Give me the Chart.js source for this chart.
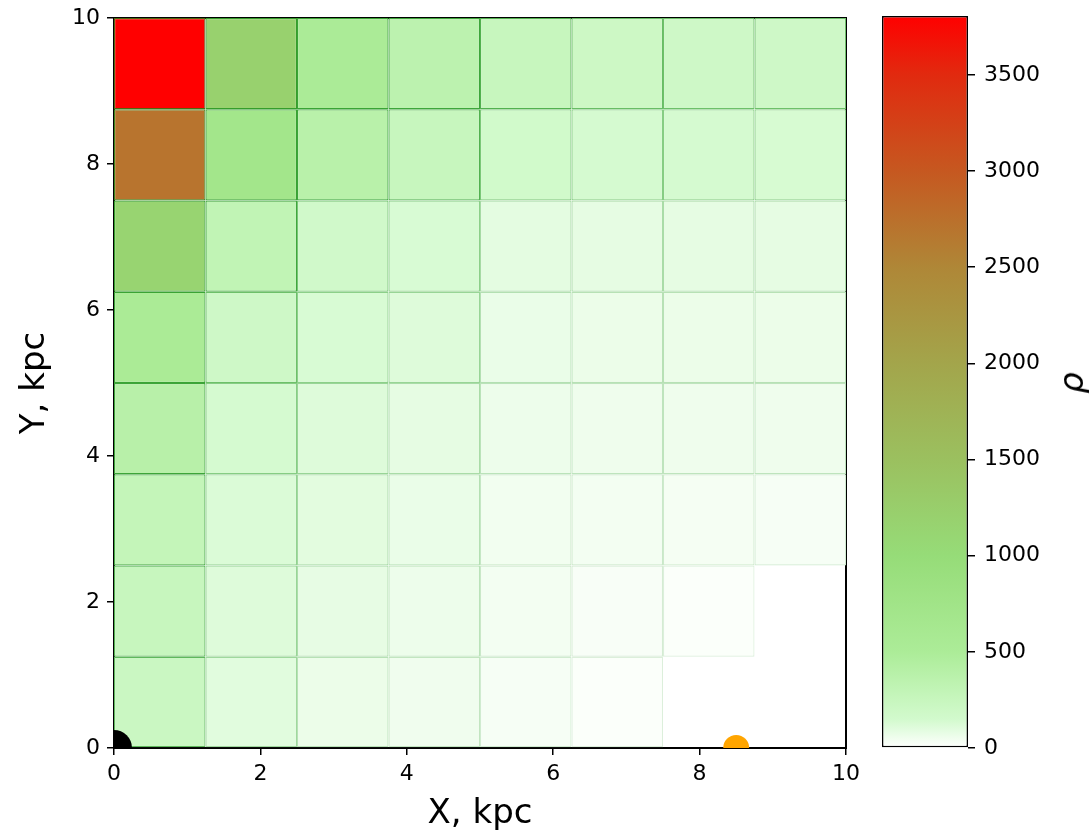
<!DOCTYPE html>
<html><head><meta charset="utf-8">
<script src="https://cdn.jsdelivr.net/npm/chart.js@4.4.1/dist/chart.umd.min.js"></script>
<style>
html,body{margin:0;padding:0;background:#fff;}
#wrap{position:relative;width:1089px;height:839px;overflow:hidden;}
#main{position:absolute;left:0;top:0;}
#cbar{position:absolute;left:860px;top:0;}
#rho{position:absolute;left:1071px;top:383px;transform:translate(-50%,-50%) rotate(-90deg);font:italic 34px "DejaVu Sans";color:#000;line-height:1;}
</style></head>
<body><div id="wrap"><canvas id="main" width="1089" height="839"></canvas><canvas id="cbar" width="229" height="839"></canvas><div id="rho">ρ</div></div>
<script>
// ---- data ----
const xEdges = [0, 1.25, 2.5, 3.75, 5, 6.25, 7.5, 8.75, 10];
const yEdges = [0, 1.25, 2.5, 3.75, 5, 6.25, 7.5, 8.75, 10];
// density per cell, one array per row (bottom row first), columns left to right
const rhoRow0 = [220, 100, 65, 50, 30, 15, 0, 0];
const rhoRow1 = [250, 110, 80, 60, 40, 25, 15, 0];
const rhoRow2 = [280, 120, 95, 70, 45, 40, 35, 30];
const rhoRow3 = [390, 140, 110, 85, 60, 55, 55, 55];
const rhoRow4 = [530, 190, 130, 110, 70, 65, 65, 65];
const rhoRow5 = [1150, 310, 170, 130, 90, 85, 85, 85];
const rhoRow6 = [2700, 700, 380, 250, 160, 140, 140, 135];
const rhoRow7 = [3806, 1200, 520, 350, 250, 200, 190, 190];
const rhoRows = [rhoRow0, rhoRow1, rhoRow2, rhoRow3, rhoRow4, rhoRow5, rhoRow6, rhoRow7];
const centerPoint = [{x: 0, y: 0}];
const sunPoint = [{x: 8.5, y: 0}];
const axisTicks = [0, 2, 4, 6, 8, 10];
const cbarTicks = [0, 500, 1000, 1500, 2000, 2500, 3000, 3500];
const rhoMax = 3806;

// ---- colormap ----
const cmapStops = [
  [0, [255,255,255]], [150, [210,250,205]], [500, [172,236,152]], [1000, [150,220,120]],
  [1500, [155,192,95]], [2000, [163,165,75]], [2500, [175,135,55]], [3000, [198,88,32]],
  [3500, [225,42,15]], [3806, [255,0,0]]
];
function cmapRGB(v) {
  if (v <= cmapStops[0][0]) return cmapStops[0][1].slice();
  for (let i = 1; i < cmapStops.length; i++) {
    const [v1, c1] = cmapStops[i], [v0, c0] = cmapStops[i-1];
    if (v <= v1) {
      const t = (v - v0) / (v1 - v0);
      return c0.map((a, k) => a + (c1[k] - a) * t);
    }
  }
  return cmapStops[cmapStops.length-1][1].slice();
}
const rgbStr = c => 'rgb(' + c.map(Math.round).join(',') + ')';
function edgeColor(v) {
  if (v <= 0) return 'rgba(0,0,0,0)';
  const a = Math.min(0.75, 0.1 + v / 450);
  const base = cmapRGB(v), g = [20, 140, 20];
  return rgbStr(base.map((b, k) => b + (g[k] - b) * a));
}

const FONT = '"DejaVu Sans", sans-serif';
Chart.defaults.font.family = FONT;
Chart.defaults.color = '#000';

const cellDatasets = rhoRows.map((row, r) => ({
  type: 'bar',
  order: 1,
  data: row.map((v, c) => ({x: (xEdges[c] + xEdges[c+1]) / 2, y: [yEdges[r], yEdges[r+1]]})),
  backgroundColor: row.map(v => v > 0 ? rgbStr(cmapRGB(v)) : 'rgba(0,0,0,0)'),
  borderColor: row.map(edgeColor),
  borderWidth: 1.2,
  borderSkipped: false,
  grouped: false,
  barPercentage: 1,
  categoryPercentage: 1,
  inflateAmount: 0
}));

const spine = {display: true, color: '#000', width: 2};
const tickGrid = {display: true, offset: false, drawOnChartArea: false, drawTicks: true, tickLength: 7, color: '#000', lineWidth: 1.5};
const noPad = s => { s.paddingTop = 0; s.paddingBottom = 0; s.paddingLeft = 0; s.paddingRight = 0; };

new Chart(document.getElementById('main'), {
  type: 'bar',
  data: {
    datasets: [
      {type: 'scatter', order: 0, data: centerPoint, pointRadius: 18, pointBorderWidth: 0, backgroundColor: '#000', borderColor: '#000', clip: 0},
      {type: 'scatter', order: 0, data: sunPoint, pointRadius: 13, pointBorderWidth: 0, backgroundColor: '#FFA500', borderColor: '#FFA500', clip: 0},
      ...cellDatasets
    ]
  },
  options: {
    responsive: false,
    devicePixelRatio: 1,
    animation: false,
    events: [],
    layout: {padding: {left: 0, top: 0, right: 213, bottom: 0}},
    plugins: {legend: {display: false}, tooltip: {enabled: false}},
    scales: {
      x: {
        type: 'linear', position: 'bottom', min: 0, max: 10, offset: false, z: 1,
        afterBuildTicks: s => { s.ticks = axisTicks.map(v => ({value: v})); },
        afterFit: s => { s.height = 91; noPad(s); },
        ticks: {font: {size: 22}, padding: 6, maxRotation: 0, callback: v => String(v)},
        grid: tickGrid, border: spine,
        title: {display: true, text: 'X, kpc', font: {size: 34}, padding: {top: 0, bottom: 4}}
      },
      y: {
        type: 'linear', position: 'left', min: 0, max: 10, z: 1,
        afterBuildTicks: s => { s.ticks = axisTicks.map(v => ({value: v})); },
        afterFit: s => { s.width = 114; noPad(s); },
        ticks: {font: {size: 22}, padding: 7, callback: v => String(v)},
        grid: tickGrid, border: spine,
        title: {display: true, text: 'Y, kpc', font: {size: 34}, padding: {top: 15, bottom: 0}}
      },
      x2: {
        type: 'linear', position: 'top', min: 0, max: 10, z: 1,
        afterFit: s => { s.height = 16; noPad(s); },
        ticks: {display: false}, grid: {display: false, drawTicks: false}, border: spine
      },
      y2: {
        type: 'linear', position: 'right', min: 0, max: 10, z: 1,
        afterFit: s => { s.width = 30; noPad(s); },
        ticks: {display: false}, grid: {display: false, drawTicks: false}, border: spine
      }
    }
  }
});

// ---- colorbar ----
new Chart(document.getElementById('cbar'), {
  type: 'bar',
  data: {
    labels: [''],
    datasets: [{
      data: [[0, rhoMax]],
      backgroundColor: (ctx) => {
        const chart = ctx.chart;
        const ys = chart.scales.y;
        if (!ys || !chart.chartArea) return 'rgba(0,0,0,0)';
        const g = chart.ctx.createLinearGradient(0, ys.getPixelForValue(0), 0, ys.getPixelForValue(rhoMax));
        cmapStops.forEach(([v, c]) => g.addColorStop(v / rhoMax, rgbStr(c)));
        return g;
      },
      borderColor: '#000',
      borderWidth: 1.5,
      borderSkipped: false,
      barPercentage: 1,
      categoryPercentage: 1,
      inflateAmount: 0
    }]
  },
  options: {
    responsive: false,
    devicePixelRatio: 1,
    animation: false,
    events: [],
    layout: {padding: {left: 22, top: 16, right: 0, bottom: 91}},
    plugins: {legend: {display: false}, tooltip: {enabled: false}},
    scales: {
      x: {display: false},
      y: {
        type: 'linear', position: 'right', min: 0, max: rhoMax,
        afterBuildTicks: s => { s.ticks = cbarTicks.map(v => ({value: v})); },
        afterFit: s => { s.width = 121; noPad(s); },
        ticks: {font: {size: 22}, padding: 9, callback: v => String(v)},
        grid: tickGrid,
        border: {display: false}
      }
    }
  }
});
</script>
</body></html>
